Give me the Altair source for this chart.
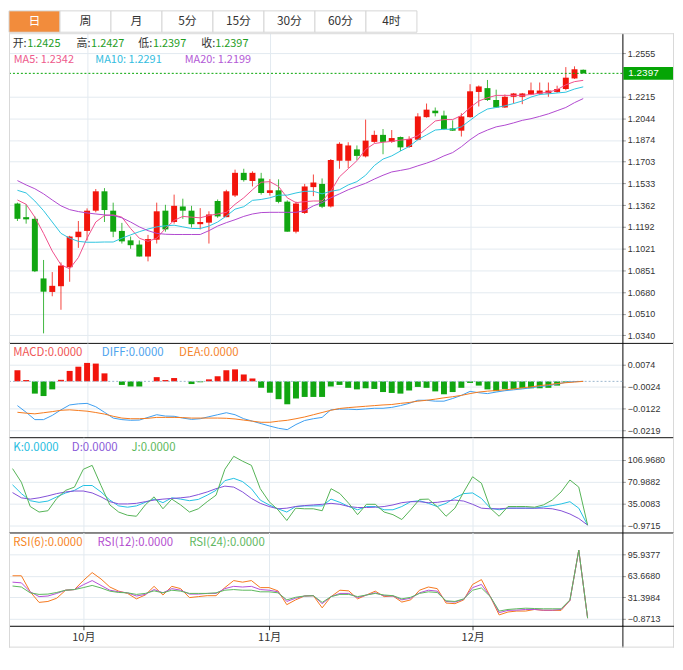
import altair as alt
import pandas as pd

# ---------------- data ----------------
tabs = ["日", "周", "月", "5分", "15分", "30分", "60分", "4时"]
active_tab = "日"

opens = [1.1375, 1.1268, 1.1255, 1.0787, 1.0681, 1.0726, 1.0875, 1.1111, 1.1160, 1.1319,
         1.1471, 1.1319, 1.1160, 1.1086, 1.1053, 1.0959, 1.1091, 1.1319, 1.1230, 1.1352,
         1.1319, 1.1213, 1.1225, 1.1395, 1.1268, 1.1438, 1.1616, 1.1552, 1.1572, 1.1458,
         1.1479, 1.1390, 1.1154, 1.1301, 1.1504, 1.1529, 1.1352, 1.1711, 1.1711, 1.1800,
         1.1745, 1.1859, 1.1914, 1.1859, 1.1897, 1.1819, 1.1876, 1.2053, 1.2104, 1.2066,
         1.1965, 1.1947, 1.2053, 1.2251, 1.2281, 1.2188, 1.2129, 1.2213, 1.2213, 1.2231,
         1.2236, 1.2239, 1.2251, 1.2274, 1.2357, 1.2425]
highs = [1.1382, 1.1369, 1.1274, 1.0932, 1.0837, 1.0913, 1.1122, 1.1238, 1.1337, 1.1489,
         1.1496, 1.1382, 1.1223, 1.1116, 1.1086, 1.1129, 1.1382, 1.1365, 1.1445, 1.1413,
         1.1357, 1.1339, 1.1314, 1.1407, 1.1483, 1.1641, 1.1648, 1.1628, 1.1616, 1.1567,
         1.1565, 1.1400, 1.1390, 1.1529, 1.1603, 1.1572, 1.1724, 1.1856, 1.1856, 1.1831,
         1.2034, 1.1947, 1.1960, 1.1952, 1.1901, 1.1903, 1.2084, 1.2160, 1.2129, 1.2104,
         1.2028, 1.2084, 1.2312, 1.2302, 1.2345, 1.2269, 1.2231, 1.2243, 1.2243, 1.2325,
         1.2325, 1.2325, 1.2300, 1.2446, 1.2452, 1.2427]
lows = [1.1238, 1.1217, 1.0837, 1.0356, 1.0647, 1.0541, 1.0761, 1.1027, 1.1086, 1.1306,
        1.1230, 1.1111, 1.1061, 1.1020, 1.0959, 1.0921, 1.1061, 1.1154, 1.1217, 1.1255,
        1.1187, 1.1172, 1.1061, 1.1263, 1.1268, 1.1426, 1.1547, 1.1509, 1.1445, 1.1438,
        1.1377, 1.1154, 1.1141, 1.1293, 1.1433, 1.1339, 1.1344, 1.1648, 1.1654, 1.1717,
        1.1737, 1.1851, 1.1762, 1.1851, 1.1787, 1.1812, 1.1871, 1.2049, 1.2059, 1.1952,
        1.1945, 1.1901, 1.2049, 1.2137, 1.2180, 1.2125, 1.2125, 1.2160, 1.2155, 1.2226,
        1.2226, 1.2213, 1.2243, 1.2264, 1.2353, 1.2397]
closes = [1.1255, 1.1251, 1.0843, 1.0683, 1.0729, 1.0888, 1.1116, 1.1154, 1.1319, 1.1471,
          1.1324, 1.1154, 1.1078, 1.1048, 1.0959, 1.1096, 1.1314, 1.1172, 1.1357, 1.1319,
          1.1213, 1.1230, 1.1289, 1.1274, 1.1471, 1.1616, 1.1559, 1.1616, 1.1458, 1.1479,
          1.1388, 1.1154, 1.1375, 1.1509, 1.1540, 1.1350, 1.1717, 1.1844, 1.1831, 1.1749,
          1.1869, 1.1914, 1.1859, 1.1889, 1.1816, 1.1882, 1.2059, 1.2112, 1.2084, 1.1960,
          1.1947, 1.2059, 1.2256, 1.2294, 1.2188, 1.2129, 1.2213, 1.2239, 1.2239, 1.2264,
          1.2262, 1.2262, 1.2274, 1.2363, 1.2429, 1.2397]

ma5 = [1.1403, 1.1369, 1.1268, 1.1141, 1.1002, 1.0894, 1.0863, 1.0951, 1.1103, 1.1230,
       1.1281, 1.1286, 1.1268, 1.1179, 1.1103, 1.1078, 1.1103, 1.1179, 1.1243, 1.1274,
       1.1268, 1.1263, 1.1281, 1.1293, 1.1306, 1.1369, 1.1420, 1.1483, 1.1542, 1.1547,
       1.1509, 1.1420, 1.1382, 1.1390, 1.1395, 1.1395, 1.1471, 1.1585, 1.1648, 1.1711,
       1.1800, 1.1846, 1.1856, 1.1863, 1.1873, 1.1880, 1.1907, 1.1965, 1.2023, 1.2034,
       1.2034, 1.2066, 1.2129, 1.2180, 1.2205, 1.2224, 1.2224, 1.2224, 1.2224, 1.2231,
       1.2241, 1.2249, 1.2269, 1.2307, 1.2332, 1.2342]
ma10 = [1.1479, 1.1458, 1.1395, 1.1319, 1.1230, 1.1141, 1.1103, 1.1078, 1.1071, 1.1071,
        1.1073, 1.1073, 1.1103, 1.1129, 1.1154, 1.1175, 1.1192, 1.1200, 1.1205, 1.1192,
        1.1179, 1.1179, 1.1198, 1.1230, 1.1277, 1.1331, 1.1350, 1.1400, 1.1407, 1.1420,
        1.1441, 1.1441, 1.1458, 1.1471, 1.1471, 1.1451, 1.1471, 1.1483, 1.1521, 1.1547,
        1.1597, 1.1673, 1.1724, 1.1749, 1.1787, 1.1823, 1.1876, 1.1914, 1.1952, 1.1958,
        1.1958, 1.1977, 1.2028, 1.2079, 1.2117, 1.2129, 1.2142, 1.2160, 1.2180, 1.2211,
        1.2231, 1.2236, 1.2243, 1.2249, 1.2274, 1.2291]
ma20 = [1.1555, 1.1521, 1.1491, 1.1451, 1.1403, 1.1357, 1.1327, 1.1312, 1.1301, 1.1293,
        1.1286, 1.1281, 1.1263, 1.1230, 1.1192, 1.1162, 1.1141, 1.1134, 1.1132, 1.1132,
        1.1132, 1.1132, 1.1162, 1.1198, 1.1225, 1.1248, 1.1274, 1.1293, 1.1304, 1.1306,
        1.1306, 1.1306, 1.1306, 1.1319, 1.1357, 1.1382, 1.1420, 1.1451, 1.1483, 1.1509,
        1.1534, 1.1567, 1.1597, 1.1623, 1.1635, 1.1648, 1.1671, 1.1692, 1.1717, 1.1749,
        1.1775, 1.1821, 1.1876, 1.1922, 1.1952, 1.1977, 1.1990, 1.2008, 1.2028, 1.2041,
        1.2059, 1.2079, 1.2104, 1.2129, 1.2167, 1.2199]

macd = [0.0050, 0.0006, -0.0055, -0.0066, -0.0036, 0.0007, 0.0047, 0.0066, 0.0083, 0.0080,
        0.0036, 0.0000, -0.0016, -0.0023, -0.0023, 0.0000, 0.0019, 0.0006, 0.0015, 0.0000,
        -0.0012, -0.0004, 0.0009, 0.0023, 0.0050, 0.0054, 0.0031, 0.0013, -0.0029, -0.0051,
        -0.0080, -0.0103, -0.0077, -0.0070, -0.0070, -0.0070, -0.0023, -0.0016, -0.0029, -0.0036,
        -0.0031, -0.0034, -0.0048, -0.0052, -0.0055, -0.0041, -0.0025, -0.0029, -0.0045, -0.0058,
        -0.0048, -0.0029, -0.0007, -0.0019, -0.0036, -0.0044, -0.0034, -0.0034, -0.0031, -0.0031,
        -0.0031, -0.0029, -0.0019, -0.0005, 0.0000, 0.0000]
diff = [-0.0109, -0.0139, -0.0172, -0.0172, -0.0153, -0.0128, -0.0106, -0.0101, -0.0099, -0.0114,
        -0.0139, -0.0165, -0.0172, -0.0175, -0.0174, -0.0162, -0.0150, -0.0156, -0.0157, -0.0165,
        -0.0171, -0.0168, -0.0159, -0.0150, -0.0141, -0.0150, -0.0168, -0.0179, -0.0190, -0.0201,
        -0.0211, -0.0217, -0.0194, -0.0176, -0.0168, -0.0162, -0.0128, -0.0125, -0.0125, -0.0127,
        -0.0124, -0.0121, -0.0121, -0.0117, -0.0109, -0.0099, -0.0085, -0.0085, -0.0089, -0.0089,
        -0.0077, -0.0063, -0.0045, -0.0051, -0.0055, -0.0048, -0.0042, -0.0038, -0.0034, -0.0029,
        -0.0023, -0.0019, -0.0012, -0.0004, -0.0001, 0.0000]
dea = [-0.0139, -0.0143, -0.0146, -0.0141, -0.0136, -0.0130, -0.0128, -0.0131, -0.0134, -0.0140,
       -0.0147, -0.0157, -0.0165, -0.0168, -0.0168, -0.0166, -0.0162, -0.0162, -0.0162, -0.0163,
       -0.0165, -0.0165, -0.0165, -0.0165, -0.0166, -0.0169, -0.0174, -0.0179, -0.0184, -0.0184,
       -0.0179, -0.0175, -0.0168, -0.0160, -0.0150, -0.0140, -0.0130, -0.0122, -0.0118, -0.0115,
       -0.0112, -0.0109, -0.0106, -0.0104, -0.0099, -0.0095, -0.0089, -0.0085, -0.0080, -0.0074,
       -0.0069, -0.0063, -0.0055, -0.0048, -0.0044, -0.0041, -0.0038, -0.0034, -0.0029, -0.0025,
       -0.0019, -0.0015, -0.0010, -0.0006, -0.0003, 0.0000]

k_line = [65.7, 51.4, 39.8, 37.1, 39.2, 46.1, 52.5, 56.7, 64.6, 64.6,
          54.1, 40.8, 31.3, 29.2, 31.3, 37.1, 42.4, 36.6, 44.5, 42.4,
          39.8, 41.9, 48.8, 56.7, 72.6, 76.3, 71.0, 59.4, 40.8, 32.9,
          26.6, 21.3, 30.3, 31.3, 31.3, 31.3, 42.4, 37.1, 30.3, 25.0,
          30.3, 30.3, 25.0, 25.0, 30.3, 38.2, 39.8, 35.5, 30.3, 35.5,
          44.5, 51.4, 52.5, 43.5, 27.6, 25.0, 27.6, 27.6, 27.6, 27.6,
          29.7, 31.8, 34.5, 38.2, 27.6, 0.0]
d_line = [53.0, 44.5, 42.4, 44.5, 47.7, 51.4, 54.1, 55.6, 55.6, 52.5,
          46.1, 38.2, 34.5, 34.5, 35.5, 38.2, 40.8, 42.4, 43.5, 44.5,
          46.1, 49.8, 54.1, 59.4, 63.6, 62.0, 54.1, 43.5, 35.5, 30.3,
          26.6, 27.6, 30.3, 31.8, 32.9, 33.9, 35.5, 33.9, 30.3, 28.7,
          28.7, 29.2, 30.3, 32.9, 36.6, 38.2, 38.2, 36.6, 37.1, 39.2,
          40.8, 39.2, 33.9, 27.6, 26.6, 26.6, 27.6, 27.6, 27.6, 27.6,
          27.6, 26.6, 23.4, 18.1, 10.7, 0.0]
j_line = [92.2, 69.9, 30.3, 21.3, 23.4, 43.5, 56.7, 62.0, 91.1, 97.5,
          64.6, 32.9, 21.3, 16.0, 14.4, 32.9, 46.1, 26.6, 42.4, 32.9,
          21.3, 26.6, 38.2, 48.8, 91.1, 112.3, 104.3, 97.5, 59.4, 38.2,
          25.0, 7.5, 27.6, 26.6, 26.6, 23.4, 59.4, 51.4, 35.5, 17.0,
          33.9, 33.9, 21.3, 17.0, 9.1, 25.0, 41.9, 42.4, 30.3, 14.4,
          27.6, 54.1, 78.9, 68.3, 27.6, 14.4, 30.3, 30.3, 30.3, 29.2,
          32.9, 40.8, 54.1, 73.6, 62.0, 0.0]

rsi6 = [63.7, 63.7, 39.6, 23.7, 25.1, 30.0, 42.0, 43.0, 56.5, 68.5,
        58.9, 46.8, 40.6, 37.2, 29.0, 34.8, 47.8, 34.8, 47.8, 44.4,
        30.9, 32.4, 33.8, 33.8, 45.9, 56.5, 54.1, 56.5, 45.9, 45.9,
        41.0, 20.3, 27.5, 33.3, 33.8, 15.5, 32.4, 42.0, 41.0, 29.0,
        34.8, 40.6, 32.4, 33.3, 24.2, 27.5, 42.0, 46.8, 44.4, 22.7,
        21.8, 27.5, 50.7, 57.9, 32.4, 4.9, 9.3, 10.7, 10.7, 13.1,
        11.7, 11.7, 11.7, 26.6, 102.2, 0.0]
rsi12 = [54.1, 53.1, 39.6, 32.4, 33.3, 37.2, 42.0, 43.0, 50.2, 56.5,
         49.2, 42.0, 39.6, 38.1, 33.3, 35.7, 43.0, 38.1, 44.4, 42.0,
         36.2, 36.2, 37.2, 37.2, 44.4, 47.8, 46.8, 47.8, 43.0, 42.0,
         39.6, 25.1, 30.0, 33.3, 33.8, 21.8, 32.4, 37.2, 37.2, 30.9,
         34.8, 38.1, 33.8, 33.3, 27.5, 30.0, 38.1, 42.0, 40.6, 25.1,
         24.2, 28.5, 45.9, 50.7, 32.4, 8.3, 11.7, 12.1, 13.1, 13.1,
         12.1, 12.1, 13.1, 26.6, 102.2, 0.0]
rsi24 = [48.3, 46.8, 38.1, 35.7, 36.2, 38.6, 42.0, 43.0, 45.9, 49.2,
         45.4, 40.6, 38.6, 38.1, 35.7, 37.2, 41.0, 38.1, 42.0, 40.6,
         37.2, 37.2, 37.2, 38.1, 42.0, 43.0, 42.0, 42.0, 39.6, 39.6,
         38.1, 27.5, 31.4, 33.3, 33.8, 23.7, 32.4, 35.7, 35.7, 32.4,
         34.8, 37.2, 34.8, 33.8, 29.0, 31.4, 37.2, 39.6, 38.6, 26.1,
         25.1, 29.0, 42.0, 45.4, 32.4, 10.7, 13.1, 14.1, 15.0, 14.5,
         14.1, 14.1, 14.1, 27.5, 102.2, 0.0]

month_idx = [8, 29, 52]
month_names = ["10月", "11月", "12月"]

price_ticks = [1.0340, 1.0510, 1.0680, 1.0851, 1.1021, 1.1192, 1.1362, 1.1533,
               1.1703, 1.1874, 1.2044, 1.2215, 1.2555]
macd_ticks = [0.0074, -0.0024, -0.0122, -0.0219]
kdj_ticks = [106.9680, 70.9882, 35.0083, -0.9715]
rsi_ticks = [95.9377, 63.6680, 31.3984, -0.8713]

ohlc_names = ["开", "高", "低", "收"]
ohlc_values = [1.2425, 1.2427, 1.2397, 1.2397]
ma_names = ["MA5", "MA10", "MA20"]
ma_values = [1.2342, 1.2291, 1.2199]
last_price = 1.2397

# ---------------- styling ----------------
RED = "#f2150c"
GREEN = "#11a611"
TAG = "#05a505"
GRID = "#e3eaf0"
FRAMEC = "#d9d9d9"
DARK = "#333333"
ORANGE = "#f28c3c"
LEG_FONT = "Noto Sans CJK SC"
AX_FONT = "Liberation Sans"

W = 618
FR = 669
H_TAB = 22
H_MAIN, H_MACD, H_KDJ, H_RSI = 312, 95, 96, 94
BOT = 22

n = len(closes)
df = pd.DataFrame({
    "i": list(range(n)), "open": opens, "high": highs, "low": lows, "close": closes,
    "ma5": ma5, "ma10": ma10, "ma20": ma20,
    "macd": macd, "diff": diff, "dea": dea, "zero": [0.0] * n,
    "k": k_line, "d": d_line, "j": j_line,
    "rsi6": rsi6, "rsi12": rsi12, "rsi24": rsi24,
})
base = alt.Chart(df)
one = pd.DataFrame({"o": [0]})

xs = alt.Scale(domain=[-0.4, 68.93], nice=False, zero=False)


def X(bottom=False):
    if bottom:
        expr = " : ".join(f"datum.value == {v} ? '{t}'" for v, t in zip(month_idx, month_names)) + " : ''"
        ax = alt.Axis(values=month_idx, grid=True, gridColor=GRID, labelExpr=expr,
                      domainColor="#000", tickColor="#444", tickSize=4,
                      labelFont=LEG_FONT, labelFontSize=11, labelColor=DARK,
                      labelPadding=2, labelFlush=False, title=None)
    else:
        ax = alt.Axis(values=month_idx, grid=True, gridColor=GRID, labels=False,
                      ticks=False, domain=False, title=None)
    return alt.X("i:Q", scale=xs, axis=ax, title=None)


def Y(field, scale, ticks):
    ax = alt.Axis(orient="right", values=ticks, format=".4f", grid=True, gridColor=GRID,
                  domainColor="#000", tickColor="#999", tickSize=3,
                  labelFont=AX_FONT, labelFontSize=9, labelColor=DARK, labelPadding=2,
                  labelOverlap=False, labelFlush=False, title=None)
    return alt.Y(field, scale=scale, axis=ax, title=None)


def label(txt, x, y, color, size=11.5):
    return alt.Chart(pd.DataFrame({"t": [txt]})).mark_text(
        align="left", baseline="middle", font=LEG_FONT, fontSize=size, color=color
    ).encode(x=alt.value(x), y=alt.value(y), text="t:N")


def hline(y, x1, x2, color):
    return alt.Chart(one).mark_rule(color=color, strokeWidth=1).encode(
        x=alt.value(x1), x2=alt.value(x2), y=alt.value(y))


def vline(x, y1, y2, color):
    return alt.Chart(one).mark_rule(color=color, strokeWidth=1).encode(
        x=alt.value(x), y=alt.value(y1), y2=alt.value(y2))


# ---------------- tabs ----------------
tab_df = pd.DataFrame({"tab": tabs, "active": [t == active_tab for t in tabs]})
tx = alt.X("tab:N", sort=tabs, scale=alt.Scale(paddingInner=0, paddingOuter=0), axis=None, title=None)
tab_rect = alt.Chart(tab_df).mark_rect(stroke="#d6d6d6", strokeWidth=1).encode(
    x=tx, y=alt.value(0.5), y2=alt.value(H_TAB),
    color=alt.condition("datum.active", alt.value(ORANGE), alt.value("white")))
tab_text = alt.Chart(tab_df).mark_text(font=LEG_FONT, fontSize=12, baseline="middle").encode(
    x=tx, y=alt.value(H_TAB / 2), text="tab:N",
    color=alt.condition("datum.active", alt.value("white"), alt.value(DARK)))
tab_chart = alt.layer(tab_rect, tab_text).properties(width=411, height=H_TAB)

# ---------------- main candlestick panel ----------------
ys = alt.Scale(domain=[1.0281, 1.2712], nice=False, zero=False)
cc = alt.condition("datum.open > datum.close", alt.value(GREEN), alt.value(RED))
wicks = base.mark_rule(strokeWidth=1, opacity=0.8).encode(
    x=X(), y=Y("low:Q", ys, price_ticks), y2="high:Q", color=cc)
bodies = base.mark_bar(width=6).encode(
    x=X(), y=Y("open:Q", ys, price_ticks), y2="close:Q", color=cc)
ma_colors = {"ma5": "#f0508c", "ma10": "#2ec5e0", "ma20": "#b049d0"}
ma_layers = [base.mark_line(strokeWidth=1, color=c).encode(x=X(), y=Y(f"{f}:Q", ys, price_ticks))
             for f, c in ma_colors.items()]
price_df = pd.DataFrame({"p": [last_price], "t": [f"{last_price:.4f}"]})
pline = alt.Chart(price_df).mark_rule(color=TAG, strokeDash=[2, 2], strokeWidth=1).encode(
    x=alt.value(0), x2=alt.value(W), y=Y("p:Q", ys, price_ticks))
ptag = alt.Chart(price_df).mark_rect(color=TAG, yOffset=-6.5, y2Offset=6.5).encode(
    x=alt.value(W + 1), x2=alt.value(FR + 1), y=Y("p:Q", ys, price_ticks), y2="p:Q")
ptext = alt.Chart(price_df).mark_text(align="left", baseline="middle", color="white",
                                      font=AX_FONT, fontSize=10).encode(
    x=alt.value(W + 6), y=Y("p:Q", ys, price_ticks), text="t:N")

main_texts = []
for nm, v, lx, vx in zip(ohlc_names, ohlc_values, [3.7, 68, 130.3, 193.7], [18.3, 82.7, 145, 207.7]):
    main_texts.append(label(f"{nm}:", lx, 10.5, DARK, 11))
    main_texts.append(label(f"{v:.4f}", vx, 10.5, "#1f9e1f", 11))
for nm, v, lx, col in zip(ma_names, ma_values, [4.7, 87, 177], ["#ee5a8c", "#33bde0", "#b35ad6"]):
    main_texts.append(label(f"{nm}: {v:.4f}", lx, 26.5, col, 11))

main = alt.layer(
    wicks, bodies, *ma_layers, pline, ptag, ptext, *main_texts,
    hline(0.5, 0, FR + 1, FRAMEC), vline(0.5, 0, H_MAIN, FRAMEC), vline(FR + 0.5, 0, H_MAIN, FRAMEC),
    hline(H_MAIN + 0.5, 0, FR + 1, "#111111"),
).properties(width=W, height=H_MAIN)

# ---------------- MACD panel ----------------
ms = alt.Scale(domain=[-0.0251, 0.0173], nice=False, zero=False)
mc = alt.condition("datum.macd >= 0", alt.value(RED), alt.value(GREEN))
hist = base.mark_bar(width=6).encode(x=X(), y=Y("macd:Q", ms, macd_ticks), y2="zero:Q", color=mc)
zline = alt.Chart(pd.DataFrame({"z": [0.0]})).mark_rule(color="#9cb6cf", strokeDash=[2, 2]).encode(
    x=alt.value(0), x2=alt.value(W), y=Y("z:Q", ms, macd_ticks))
diff_l = base.mark_line(strokeWidth=1, color="#3d9ef0").encode(x=X(), y=Y("diff:Q", ms, macd_ticks))
dea_l = base.mark_line(strokeWidth=1, color="#f57a1d").encode(x=X(), y=Y("dea:Q", ms, macd_ticks))
macd_p = alt.layer(
    hist, zline, diff_l, dea_l,
    label("MACD:0.0000", 4.3, 10.5, "#f05555"),
    label("DIFF:0.0000", 93.5, 10.5, "#4ea3ee"),
    label("DEA:0.0000", 171.4, 10.5, "#f5852e"),
    vline(0.5, 0, H_MACD, FRAMEC), vline(FR + 0.5, 0, H_MACD, FRAMEC),
    hline(H_MACD + 0.5, 0, FR + 1, "#111111"),
).properties(width=W, height=H_MACD)

# ---------------- KDJ panel ----------------
ks = alt.Scale(domain=[-12.08, 143.5], nice=False, zero=False)
kdj_cols = {"k": "#22c1e3", "d": "#8350d8", "j": "#55b356"}
kdj_layers = [base.mark_line(strokeWidth=1, color=c).encode(x=X(), y=Y(f"{f}:Q", ks, kdj_ticks))
              for f, c in kdj_cols.items()]
kdj_p = alt.layer(
    *kdj_layers,
    label("K:0.0000", 4.3, 10.8, "#26bde0"),
    label("D:0.0000", 63.3, 10.8, "#8a5ad8"),
    label("J:0.0000", 123.3, 10.8, "#5cb85c"),
    vline(0.5, 0, H_KDJ, FRAMEC), vline(FR + 0.5, 0, H_KDJ, FRAMEC),
    hline(H_KDJ + 0.5, 0, FR + 1, "#111111"),
).properties(width=W, height=H_KDJ)

# ---------------- RSI panel ----------------
rs = alt.Scale(domain=[-11.42, 128.74], nice=False, zero=False)
rsi_cols = {"rsi6": "#f5781e", "rsi12": "#b54fd8", "rsi24": "#5db85d"}
rsi_layers = [base.mark_line(strokeWidth=1, color=c).encode(x=X(True), y=Y(f"{f}:Q", rs, rsi_ticks))
              for f, c in rsi_cols.items()]
rsi_p = alt.layer(
    *rsi_layers,
    label("RSI(6):0.0000", 4.3, 10.5, "#f7861f"),
    label("RSI(12):0.0000", 89.2, 10.5, "#b44fd0"),
    label("RSI(24):0.0000", 181.5, 10.5, "#62b862"),
    vline(0.5, 0, H_RSI + BOT, FRAMEC), vline(FR + 0.5, 0, H_RSI + BOT, FRAMEC),
    hline(H_RSI + 0.5, W, FR + 1, "#111111"),
    vline(W + 0.5, H_RSI, H_RSI + BOT, "#111111"),
    hline(H_RSI + BOT - 0.5, 0, FR + 1, FRAMEC),
).properties(width=W, height=H_RSI)

inner = alt.vconcat(main, macd_p, kdj_p, rsi_p, spacing=0, bounds="flush").resolve_scale(
    x="independent", y="independent")
chart = alt.vconcat(tab_chart, inner, spacing=1, bounds="flush").resolve_scale(
    x="independent", y="independent")
chart = chart.configure_view(stroke=None).properties(padding=0, background="white")

chart.save("out.html", embed_options={"renderer": "svg", "actions": False})
